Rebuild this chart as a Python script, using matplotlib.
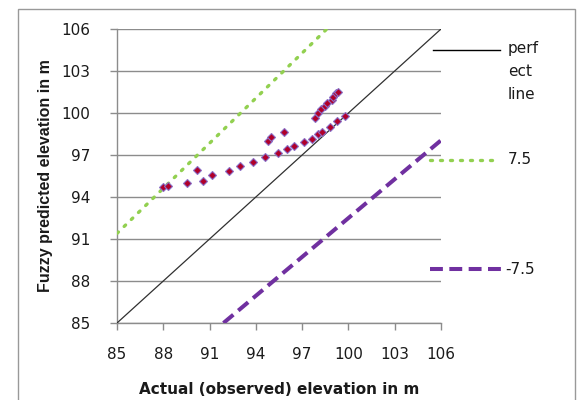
import matplotlib.pyplot as plt
from matplotlib.lines import Line2D
from matplotlib.patches import Rectangle

# observed vs fuzzy predicted elevations (m)
actual = [87.98, 88.31, 89.54, 90.57, 91.16, 92.26, 92.97, 93.81, 94.59, 95.43,
          96.02, 96.47, 97.12, 97.64, 98.03, 98.29, 98.80, 99.26, 99.78,
          90.18, 94.79, 94.98, 95.82,
          97.83, 98.03, 98.22, 98.48, 98.61, 98.93, 99.00, 99.19, 99.32]
predicted = [94.71, 94.79, 95.00, 95.14, 95.57, 95.86, 96.21, 96.50, 96.86, 97.14,
             97.43, 97.64, 97.93, 98.14, 98.50, 98.64, 99.00, 99.43, 99.79,
             95.93, 98.00, 98.29, 98.64,
             99.64, 100.00, 100.29, 100.50, 100.71, 100.93, 101.14, 101.43, 101.50]

perfect_x = [85, 106]
perfect_y = [85, 106]
plus_x = [85, 98.6]      # +7.5 % band
plus_y = [91.4, 106]
minus_x = [91.9, 106]    # -7.5 % band
minus_y = [85, 98.05]

ticks = [85, 88, 91, 94, 97, 100, 103, 106]

fig = plt.figure(figsize=(5.8, 4.0), dpi=100)
ax = fig.add_axes([117 / 580, 1 - 323 / 400, 324 / 580, 294 / 400])

ax.plot(perfect_x, perfect_y, color='#303030', lw=0.9, zorder=3)
ax.plot(plus_x, plus_y, color='#92d050', lw=2.4, dashes=(0.6, 2.4),
        dash_capstyle='round', zorder=3)
ax.plot(minus_x, minus_y, color='#7030a0', lw=2.9, dashes=(3.2, 1.6), zorder=3)
ax.plot(actual, predicted, ls='none', marker='D', ms=4.0, mfc='#b0002a',
        mec='#8a70c8', mew=0.8, zorder=4)

ax.set_xlim(85, 106)
ax.set_ylim(85, 106)
ax.set_xticks(ticks)
ax.set_yticks(ticks)
ax.grid(axis='y', color='#8c8c8c', lw=1.0)
ax.set_axisbelow(True)
for s in ['top', 'right']:
    ax.spines[s].set_visible(False)
for s in ['left', 'bottom']:
    ax.spines[s].set_color('#8c8c8c')
    ax.spines[s].set_linewidth(1.0)
ax.tick_params(colors='#8c8c8c', length=5, width=1.0, labelcolor='#1a1a1a',
               labelsize=11)
ax.tick_params(axis='x', pad=12)
ax.tick_params(axis='y', pad=14)

ax.set_xlabel('Actual (observed) elevation in m', fontsize=11, fontweight='bold',
              color='#1a1a1a', labelpad=15)
ax.set_ylabel('Fuzzy predicted elevation in m',
              family=['Liberation Sans', 'DejaVu Sans'], fontsize=11.5,
              fontweight='bold', color='#1a1a1a', labelpad=6)

# legend drawn by hand on the right
def fx(px):
    return px / 580

def fy(py):
    return 1 - py / 400

fig.add_artist(Line2D([fx(433), fx(500)], [fy(50), fy(50)], color='black', lw=1.0))
fig.add_artist(Line2D([fx(430), fx(498)], [fy(160), fy(160)], color='#92d050',
                      lw=2.4, dashes=(0.6, 2.4), dash_capstyle='round'))
fig.add_artist(Line2D([fx(430), fx(502)], [fy(269), fy(269)], color='#7030a0',
                      lw=2.9, dashes=(3.2, 1.6)))
fig.text(fx(508), fy(41), 'perf\nect\nline', fontsize=11, va='top', color='#1a1a1a',
         linespacing=1.65)
fig.text(fx(508), fy(160), '7.5', fontsize=11, va='center', color='#1a1a1a')
fig.text(fx(505), fy(269), '-7.5', fontsize=11, va='center', color='#1a1a1a')

# outer chart frame
fig.add_artist(Rectangle((fx(18), fy(420)), fx(557), 411 / 400, fill=False,
                         ec='#999999', lw=1.0, transform=fig.transFigure))

fig.savefig('out.png', dpi=100)
